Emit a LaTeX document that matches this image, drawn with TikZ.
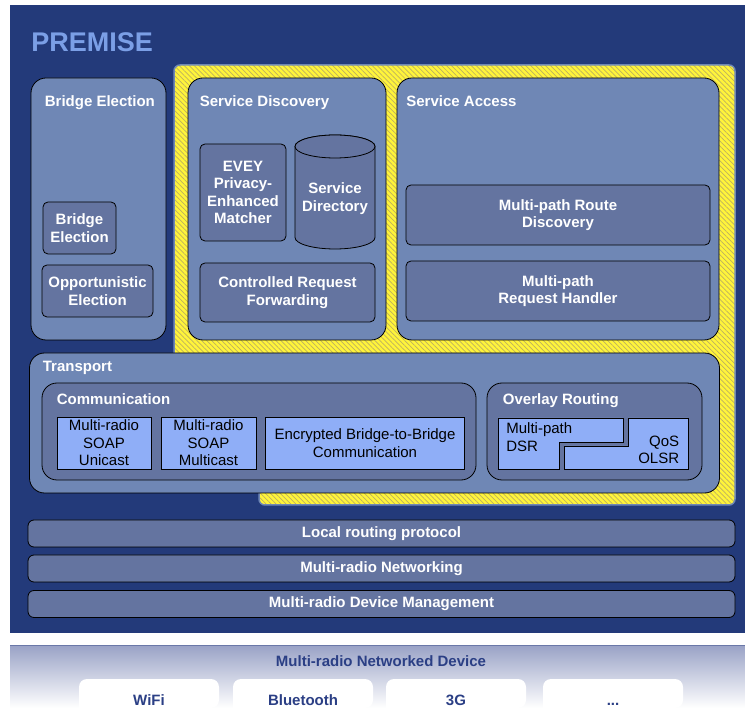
\documentclass[tikz,border=0pt]{standalone}
\usepackage{fontspec}
\setmainfont{Liberation Sans}
\usetikzlibrary{patterns.meta}
\definecolor{PremiseBlue}{HTML}{233A7A}
\definecolor{PanelBlue}{HTML}{6F87B5}
\definecolor{InnerBlue}{HTML}{6474A0}
\definecolor{ModuleBlue}{HTML}{8FAEF7}
\definecolor{TitleBlue}{HTML}{7B9FE6}
\definecolor{HatchYellow}{HTML}{FFF43A}
\definecolor{HatchLine}{HTML}{BDB060}
\definecolor{DeviceBlue}{HTML}{2B3F85}
\definecolor{DeviceTop}{HTML}{99A2C6}
\definecolor{DeviceMid}{HTML}{D4D8E8}
\definecolor{DeviceLine}{HTML}{6A78A8}
\newcommand{\diagfont}{\fontsize{15}{17.5}\selectfont}
\newcommand{\premisefont}{\fontsize{27}{30}\selectfont\bfseries}
\tikzset{
    panelbox/.style={draw, fill=PanelBlue, rounded corners=15pt},
    innerbox/.style={draw, fill=InnerBlue, rounded corners=5pt, text=white, font=\diagfont\bfseries, align=center, inner sep=2pt},
    modulebox/.style={draw, fill=ModuleBlue, text=black, font=\diagfont, align=center, inner sep=2pt},
    paneltitle/.style={text=white, font=\diagfont\bfseries, anchor=base west, inner sep=0pt},
    tabshape/.style={fill=white, rounded corners=8pt},
    tablabel/.style={text=DeviceBlue, font=\diagfont\bfseries, anchor=base, inner sep=0pt}
}

\begin{document}
\begin{tikzpicture}[x=1pt, y=1pt, line width=0.8pt]
    \useasboundingbox (0,0) rectangle (745,-708);
    \fill[PremiseBlue] (10,-5) rectangle (745,-633);
    \node[text=TitleBlue, font=\premisefont, anchor=base west, inner sep=0pt] (premise) at (31,-52) {PREMISE};
    % hatched area behind discovery and access
    \draw[draw=PanelBlue, line width=1.5pt, rounded corners=6pt, preaction={fill=HatchYellow},
        pattern={Lines[angle=-45, distance=3.5pt, line width=0.7pt]}, pattern color=HatchLine]
        (174,-65) -- (735,-65) -- (735,-505) -- (259,-505) -- (259,-430) -- (174,-430) -- cycle;
    % upper panels
    \node[panelbox, minimum width=135pt, minimum height=262pt] (bridge) at (98.5,-209) {};
    \node[panelbox, minimum width=198pt, minimum height=262pt] (discovery) at (287,-209) {};
    \node[panelbox, minimum width=322pt, minimum height=262pt] (access) at (558,-209) {};
    \node[paneltitle] (bridgetitle) at (44.5,-107) {Bridge Election};
    \node[paneltitle] (discoverytitle) at (199.5,-107) {Service Discovery};
    \node[paneltitle] (accesstitle) at (406,-106.5) {Service Access};
    \node[innerbox, minimum width=73pt, minimum height=52pt] (bridgeel) at (79.5,-228) {Bridge\\Election};
    \node[innerbox, minimum width=111pt, minimum height=52pt] (opport) at (97.5,-291) {Opportunistic\\Election};
    \node[innerbox, minimum width=86pt, minimum height=97pt] (evey) at (243,-192.5) {EVEY\\Privacy-\\Enhanced\\Matcher};
    % service directory cylinder
    \path[draw, fill=InnerBlue] (295,-146.5) -- (295,-237.5)
        arc[start angle=180, end angle=360, x radius=40, y radius=11.5] -- (375,-146.5)
        arc[start angle=0, end angle=180, x radius=40, y radius=11.5] -- cycle;
    \draw[fill=InnerBlue] (335,-146.5) ellipse[x radius=40, y radius=11.5];
    \node[text=white, font=\diagfont\bfseries, align=center] (servicedir) at (335,-198.5) {Service\\Directory};
    \node[innerbox, minimum width=175pt, minimum height=59pt] (forwarding) at (287.5,-292.5) {Controlled Request\\Forwarding};
    \node[innerbox, minimum width=304pt, minimum height=60pt] (routedisc) at (558,-215) {Multi-path Route\\Discovery};
    \node[innerbox, minimum width=304pt, minimum height=60pt] (reqhandler) at (558,-291) {Multi-path\\Request Handler};
    % transport
    \node[panelbox, minimum width=690pt, minimum height=140pt] (transport) at (374.5,-423) {};
    \node[paneltitle] (transporttitle) at (42.5,-372) {Transport};
    \node[panelbox, fill=InnerBlue, minimum width=434pt, minimum height=97pt] (comm) at (259,-431.5) {};
    \node[paneltitle] (commtitle) at (56.5,-405) {Communication};
    \node[panelbox, fill=InnerBlue, minimum width=215pt, minimum height=97pt] (overlay) at (594.5,-431.5) {};
    \node[paneltitle] (overlaytitle) at (502.5,-405) {Overlay Routing};
    \node[modulebox, minimum width=94pt, minimum height=52pt] (unicast) at (104,-443) {Multi-radio\\SOAP\\Unicast};
    \node[modulebox, minimum width=95pt, minimum height=52pt] (multicast) at (208.5,-443) {Multi-radio\\SOAP\\Multicast};
    \node[modulebox, minimum width=199pt, minimum height=52pt] (encrypted) at (365,-443) {Encrypted Bridge-to-Bridge\\Communication};
    \draw[fill=ModuleBlue] (498,-418) -- (623,-418) -- (623,-442) -- (559,-442) -- (559,-469) -- (498,-469) -- cycle;
    \draw[fill=ModuleBlue] (628,-418) -- (688,-418) -- (688,-469) -- (564,-469) -- (564,-446) -- (628,-446) -- cycle;
    \node[font=\diagfont, align=left, anchor=north west, inner sep=0pt] (dsr) at (506,-422.5) {Multi-path\\DSR};
    \node[font=\diagfont, align=right, anchor=north east, inner sep=0pt] (olsr) at (679.5,-435.5) {QoS\\OLSR};
    % lower layers
    \node[innerbox, rounded corners=6pt, minimum width=707pt, minimum height=27pt] (localrouting) at (381.5,-533.5) {Local routing protocol};
    \node[innerbox, rounded corners=6pt, minimum width=707pt, minimum height=27pt] (networking) at (381.5,-568.5) {Multi-radio Networking};
    \node[innerbox, rounded corners=6pt, minimum width=707pt, minimum height=27pt] (devmgmt) at (381.5,-604) {Multi-radio Device Management};
    % device
    \shade[top color=DeviceTop, middle color=DeviceMid, bottom color=white] (10,-645) rectangle (745,-708);
    \draw[DeviceLine, line width=1pt] (10,-645) -- (745,-645);
    \node[text=DeviceBlue, font=\diagfont\bfseries] (device) at (381,-661) {Multi-radio Networked Device};
    \path[tabshape] (79,-708) |- (219,-679) -- (219,-708) [sharp corners] -- cycle;
    \path[tabshape] (233,-708) |- (373,-679) -- (373,-708) [sharp corners] -- cycle;
    \path[tabshape] (386,-708) |- (526,-679) -- (526,-708) [sharp corners] -- cycle;
    \path[tabshape] (543,-708) |- (683,-679) -- (683,-708) [sharp corners] -- cycle;
    \node[tablabel] (wifi) at (149,-705.5) {WiFi};
    \node[tablabel] (bluetooth) at (303,-705.5) {Bluetooth};
    \node[tablabel] (threeg) at (456,-705.5) {3G};
    \node[tablabel] (more) at (613,-705.5) {...};
\end{tikzpicture}
\end{document}
